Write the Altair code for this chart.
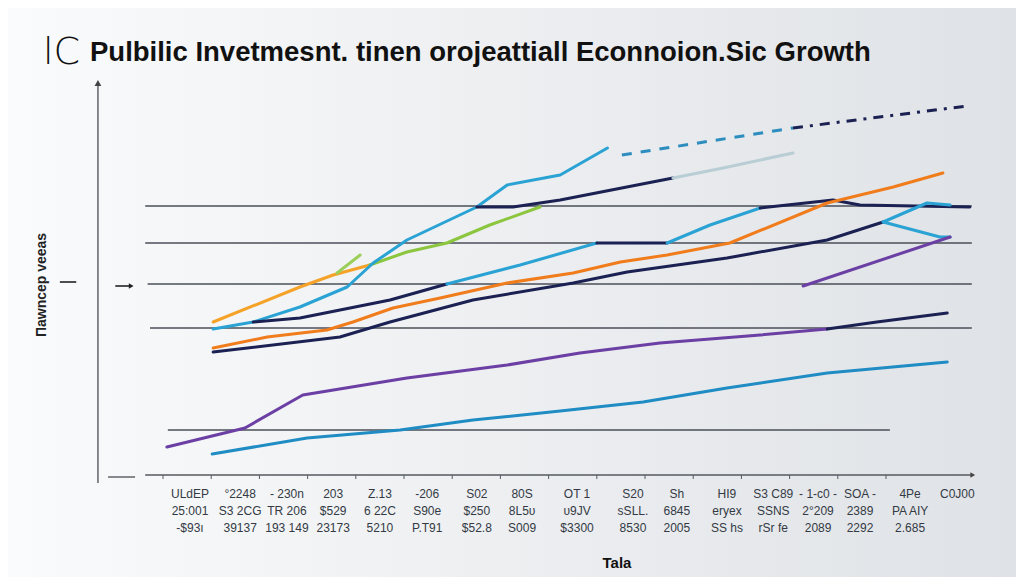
import altair as alt
import pandas as pd

# ---------------- data (x = period index, y = value) ----------------
gold_x = [1.04, 2.84, 3.53, 4.29]
gold_y = [40.75, 49.5, 52.5, 55.0]

green_x = [4.29, 5.06, 5.89, 6.78, 7.82]
green_y = [55.0, 58.25, 60.5, 65.0, 69.5]

green_spike_x = [3.61, 4.09]
green_spike_y = [53.0, 57.5]

cyan_top_x = [1.04, 1.87, 2.84, 3.82, 4.36, 5.06, 6.51, 7.14, 8.24, 9.22]
cyan_top_y = [39.0, 40.75, 44.5, 49.5, 55.5, 61.25, 69.5, 75.0, 77.5, 84.25]

navy_top_x = [6.51, 7.26, 8.24, 10.58]
navy_top_y = [69.5, 69.5, 71.25, 76.75]

pale_x = [10.58, 11.62, 13.07]
pale_y = [76.75, 79.25, 83.0]

dash_blue_x = [9.52, 13.07]
dash_blue_y = [82.5, 89.25]

dash_navy_x = [13.07, 16.68]
dash_navy_y = [89.25, 94.75]

navy_mid_x = [1.87, 2.84, 3.88, 4.71, 5.89]
navy_mid_y = [40.75, 41.75, 44.25, 46.25, 50.25]

cyan_mid_a_x = [5.89, 7.41, 9.0]
cyan_mid_a_y = [50.25, 55.0, 60.5]

navy_link_x = [9.0, 10.46]
navy_link_y = [60.5, 60.5]

cyan_mid_b_x = [10.46, 11.35, 12.39]
cyan_mid_b_y = [60.5, 65.0, 69.25]

navy_mid_b_x = [12.39, 13.9, 14.46, 16.74]
navy_mid_b_y = [69.25, 71.25, 70.0, 69.5]

orange_x = [1.04, 2.16, 3.4, 3.94, 4.77, 5.75, 7.14, 8.51, 9.49, 10.46, 11.76, 13.78, 15.15, 16.18]
orange_y = [34.25, 37.0, 38.75, 40.75, 44.25, 46.75, 50.5, 53.0, 55.75, 57.5, 60.5, 70.5, 74.5, 78.0]

navy_low_x = [1.04, 3.67, 4.71, 6.43, 8.51, 9.63, 11.7, 13.78, 14.94]
navy_low_y = [33.25, 37.0, 40.75, 46.25, 50.5, 53.25, 56.75, 61.25, 65.75]

cyan_fork_up_x = [14.94, 15.85, 16.33]
cyan_fork_up_y = [65.75, 70.5, 70.0]

cyan_fork_down_x = [14.94, 16.12, 16.33]
cyan_fork_down_y = [65.75, 62.0, 62.0]

purple_right_x = [13.28, 16.33]
purple_right_y = [49.75, 62.0]

purple_x = [0.08, 1.7, 2.9, 5.06, 7.14, 8.65, 10.31, 12.39, 13.78]
purple_y = [9.5, 14.25, 22.5, 26.75, 30.0, 33.0, 35.5, 37.5, 39.0]

navy_tail_x = [13.78, 14.81, 16.27]
navy_tail_y = [39.0, 40.75, 43.0]

blue_low_x = [1.02, 2.99, 4.92, 6.43, 8.24, 9.96, 11.7, 13.78, 16.27]
blue_low_y = [7.75, 11.75, 13.75, 16.25, 18.5, 20.75, 24.25, 28.0, 30.75]

grid_y = [69.75, 60.5, 50.25, 39.25, 13.75]
grid_x1 = [-0.37, -0.37, -0.32, -0.27, 0.1]
grid_x2 = [16.78, 16.78, 16.78, 16.78, 15.08]

tick_x = list(range(16))

label_x = [0.56, 1.6, 2.57, 3.53, 4.5, 5.48, 6.51, 7.45, 8.59, 9.75, 10.66, 11.7, 12.66, 13.59, 14.46, 15.5, 16.48]
label_l1 = ["ULdEP", "°2248", "- 230n", "203", "Z.13", "-206", "S02", "80S", "OT 1", "S20", "Sh", "HI9", "S3 C89", "- 1-c0 -", "SOA -", "4Pe", "C0J00"]
label_l2 = ["25:001", "S3 2CG", "TR 206", "$529", "6 22C", "S90e", "$250", "8L5υ", "υ9JV", "sSLL.", "6845", "eryex", "SSNS", "2°209", "2389", "PA AIY", ""]
label_l3 = ["-$93ı", "39137", "193 149", "23173", "5210", "P.T91", "$52.8", "S009", "$3300", "8530", "2005", "SS hs", "rSr fe", "2089", "2292", "2.685", ""]

title_mark = "lC"
title_text = "Pulbilic Invetmesnt. tinen orojeattiall Econnoion.Sic Growth"
y_title = "Пawncep veeas"
x_title = "Tala"

# ---------------- build tables ----------------
solid = [
    ("gold", gold_x, gold_y, "#f4a328"),
    ("green", green_x, green_y, "#8cc63e"),
    ("green2", green_spike_x, green_spike_y, "#9ccf5a"),
    ("cyan_top", cyan_top_x, cyan_top_y, "#2aa3d4"),
    ("navy_top", navy_top_x, navy_top_y, "#1b2152"),
    ("pale", pale_x, pale_y, "#b9cdd5"),
    ("navy_mid", navy_mid_x, navy_mid_y, "#1b2152"),
    ("cyan_mid_a", cyan_mid_a_x, cyan_mid_a_y, "#2aa3d4"),
    ("navy_link", navy_link_x, navy_link_y, "#1b2152"),
    ("cyan_mid_b", cyan_mid_b_x, cyan_mid_b_y, "#2aa3d4"),
    ("navy_mid_b", navy_mid_b_x, navy_mid_b_y, "#1b2152"),
    ("orange", orange_x, orange_y, "#f07c1c"),
    ("navy_low", navy_low_x, navy_low_y, "#1b2152"),
    ("fork_up", cyan_fork_up_x, cyan_fork_up_y, "#2aa3d4"),
    ("fork_down", cyan_fork_down_x, cyan_fork_down_y, "#2aa3d4"),
    ("purple_right", purple_right_x, purple_right_y, "#6b3fa3"),
    ("purple", purple_x, purple_y, "#6b3fa3"),
    ("navy_tail", navy_tail_x, navy_tail_y, "#1b2152"),
    ("blue_low", blue_low_x, blue_low_y, "#1f8cc4"),
]

rows = []
for name, xs, ys, _ in solid:
    for i, (a, b) in enumerate(zip(xs, ys)):
        rows.append({"seg": name, "i": i, "x": a, "y": b})
lines_df = pd.DataFrame(rows)
seg_domain = [s[0] for s in solid]
seg_range = [s[3] for s in solid]

dash_rows = []
for name, xs, ys in [("db", dash_blue_x, dash_blue_y), ("dn", dash_navy_x, dash_navy_y)]:
    for i, (a, b) in enumerate(zip(xs, ys)):
        dash_rows.append({"seg": name, "i": i, "x": a, "y": b})
dash_df = pd.DataFrame(dash_rows)

grid_df = pd.DataFrame({"y": grid_y, "x1": grid_x1, "x2": grid_x2})
tick_df = pd.DataFrame({"x": tick_x})
lab_df = pd.DataFrame({"x": label_x,
                       "t": [f"{a}\n{b}\n{c}" for a, b, c in zip(label_l1, label_l2, label_l3)]})

W, H = 890, 410
PADL, PADT, PADR, PADB = 82, 72, 36, 87
xs_ = alt.Scale(domain=[-1.515, 16.95], nice=False, zero=False)
ys_ = alt.Scale(domain=[-1.25, 101.25], nice=False, zero=False)

def X(f="x"):
    return alt.X(f"{f}:Q", scale=xs_, axis=None)

def Y(f="y"):
    return alt.Y(f"{f}:Q", scale=ys_, axis=None)

one = pd.DataFrame({"k": [0]})

bg = alt.Chart(one).mark_rect(
    color=alt.Gradient(gradient="linear",
                       stops=[alt.GradientStop(color="#fafbfc", offset=0),
                              alt.GradientStop(color="#dfe2e6", offset=1)],
                       x1=0, x2=1, y1=0, y2=0)
).encode(x=alt.value(-PADL - 8), x2=alt.value(W + PADR + 8),
         y=alt.value(-PADT - 8), y2=alt.value(H + PADB + 8))

grid = alt.Chart(grid_df).mark_rule(color="#4a4f58", strokeWidth=1.3).encode(
    x=X("x1"), x2="x2:Q", y=Y())

lines = alt.Chart(lines_df).mark_line(strokeWidth=3, strokeCap="round", strokeJoin="round").encode(
    x=X(), y=Y(),
    color=alt.Color("seg:N", scale=alt.Scale(domain=seg_domain, range=seg_range), legend=None),
    detail="seg:N", order="i:Q")

dash_blue = alt.Chart(dash_df[dash_df.seg == "db"]).mark_line(
    strokeWidth=3, color="#2d8dbf", strokeDash=[10, 9]).encode(x=X(), y=Y(), order="i:Q")
dash_navy = alt.Chart(dash_df[dash_df.seg == "dn"]).mark_line(
    strokeWidth=3, color="#1b2152", strokeDash=[10, 7, 3, 7]).encode(x=X(), y=Y(), order="i:Q")

# axes
yaxis = alt.Chart(pd.DataFrame({"x": [-1.35], "y1": [100.5], "y2": [0.5]})).mark_rule(
    color="#555a60", strokeWidth=1.4).encode(x=X(), y=Y("y1"), y2="y2:Q")
yarrow = alt.Chart(pd.DataFrame({"x": [-1.35], "y": [100.5]})).mark_point(
    shape="triangle-up", filled=True, color="#444", size=45, opacity=1).encode(x=X(), y=Y())
xaxis = alt.Chart(pd.DataFrame({"x1": [-0.37], "x2": [16.78], "y": [2.5]})).mark_rule(
    color="#555a60", strokeWidth=1.4).encode(x=X("x1"), x2="x2:Q", y=Y())
xarrow = alt.Chart(pd.DataFrame({"x": [16.8], "y": [2.5]})).mark_point(
    shape="triangle-right", filled=True, color="#444", size=30, opacity=1).encode(x=X(), y=Y())
xdash = alt.Chart(pd.DataFrame({"x1": [-1.14], "x2": [-0.58], "y": [2.0]})).mark_rule(
    color="#555a60", strokeWidth=1.4).encode(x=X("x1"), x2="x2:Q", y=Y())
ticks = alt.Chart(tick_df).mark_rule(color="#555a60", strokeWidth=1).encode(
    x=X(), y=alt.value(395), y2=alt.value(399))
midarrow = alt.Chart(pd.DataFrame({"x1": [-0.99], "x2": [-0.7], "y": [49.75]})).mark_rule(
    color="#222", strokeWidth=1.6).encode(x=X("x1"), x2="x2:Q", y=Y())
midarrow_head = alt.Chart(pd.DataFrame({"x": [-0.66], "y": [49.75]})).mark_point(
    shape="triangle-right", filled=True, color="#222", size=30, opacity=1).encode(x=X(), y=Y())
leftdash = alt.Chart(pd.DataFrame({"x1": [-2.14], "x2": [-1.8], "y": [50.75]})).mark_rule(
    color="#222", strokeWidth=1.6).encode(x=X("x1"), x2="x2:Q", y=Y())

labels = alt.Chart(lab_df).mark_text(
    lineBreak="\n", lineHeight=17, baseline="top", align="center",
    font="Liberation Sans", fontSize=12, color="#333a44").encode(
    x=X(), y=alt.value(409), text="t:N")

t_mark = alt.Chart(pd.DataFrame({"t": [title_mark]})).mark_text(
    font="DejaVu Sans", fontSize=38, fontWeight=300, color="#111", align="left", baseline="middle").encode(
    x=alt.value(-47), y=alt.value(-27), text="t:N")
t_main = alt.Chart(pd.DataFrame({"t": [title_text]})).mark_text(
    font="Liberation Sans", fontSize=27.5, fontWeight="bold", color="#111", align="left", baseline="alphabetic").encode(
    x=alt.value(0), y=alt.value(-19), text="t:N")
t_y = alt.Chart(pd.DataFrame({"t": [y_title]})).mark_text(
    font="Liberation Sans", fontSize=14, fontWeight="bold", color="#222", angle=270,
    align="center", baseline="middle").encode(x=alt.value(-48), y=alt.value(205), text="t:N")
t_x = alt.Chart(pd.DataFrame({"t": [x_title]})).mark_text(
    font="Liberation Sans", fontSize=15, fontWeight="bold", color="#111",
    align="center", baseline="middle").encode(x=alt.value(527), y=alt.value(483), text="t:N")

chart = alt.layer(
    bg, grid, xaxis, xdash, ticks, xarrow, yaxis, yarrow, midarrow, midarrow_head, leftdash,
    lines, dash_blue, dash_navy, labels, t_mark, t_main, t_y, t_x
).properties(
    width=W, height=H,
    padding={"left": PADL, "top": PADT, "right": PADR, "bottom": PADB},
    autosize=alt.AutoSizeParams(type="none"),
).configure_view(stroke=None).configure(background="#eceef1")

chart.save("out.html", embed_options={"renderer": "svg", "actions": False})
